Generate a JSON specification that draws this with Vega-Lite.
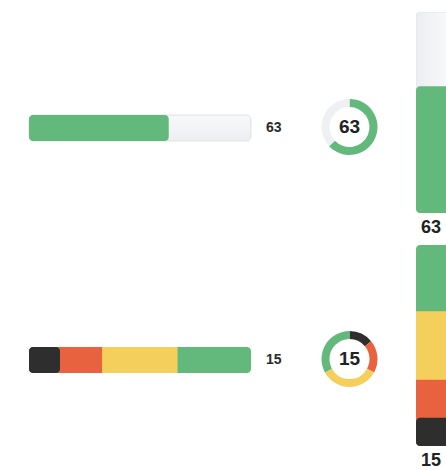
{
  "$schema": "https://vega.github.io/schema/vega-lite/v6.json",
  "padding": {"left": 28, "top": 12, "right": 0, "bottom": 0},
  "background": "white",
  "config": {"view": {"stroke": null}, "font": "Liberation Sans"},
  "datasets": {
    "progress": [
      {"part": "Done", "value": 63, "rank": 1},
      {"part": "Remaining", "value": 37, "rank": 2}
    ],
    "levels": [
      {"part": "L1", "value": 14, "rank": 1},
      {"part": "L2", "value": 19, "rank": 2},
      {"part": "L3", "value": 34, "rank": 3},
      {"part": "L4", "value": 33, "rank": 4}
    ],
    "score": [{"label": "Score", "value": 15}]
  },
  "bounds": "full",
  "spacing": 39.5,
  "hconcat": [
    {
      "bounds": "flush",
      "spacing": 103,
      "vconcat": [
        {
          "width": 222, "height": 232,
          "data": {"name": "progress"},
          "transform": [{"stack": "value", "groupby": [], "sort": [{"field": "rank", "order": "ascending"}], "as": ["start", "end"]}],
          "layer": [
            {
              "transform": [{"filter": "datum.part === 'Remaining'"}],
              "mark": {"type": "bar", "height": 26, "cornerRadius": 4, "stroke": "#e1e5ea", "strokeWidth": 1,
                "color": {"gradient": "linear", "x1": 0, "y1": 0, "x2": 0, "y2": 1, "stops": [{"offset": 0, "color": "#f8f9fa"}, {"offset": 1, "color": "#eceef1"}]}},
              "encoding": {"x": {"field": "end", "type": "quantitative", "scale": {"domain": [0, 100]}, "axis": null}}
            },
            {
              "transform": [{"filter": "datum.part === 'Done'"}],
              "mark": {"type": "bar", "height": 26, "cornerRadius": 4, "color": "#63b97c"},
              "encoding": {"x": {"field": "end", "type": "quantitative", "scale": {"domain": [0, 100]}, "axis": null}}
            },
            {
              "transform": [{"filter": "datum.part === 'Done'"}],
              "mark": {"type": "text", "align": "left", "baseline": "middle", "dx": 15, "fontSize": 14, "fontWeight": "bold", "color": "#2b2b2b"},
              "encoding": {"x": {"datum": 100}, "text": {"field": "value", "type": "quantitative"}}
            }
          ]
        },
        {
          "width": 222, "height": 26,
          "layer": [
            {
              "data": {"name": "levels"},
              "transform": [{"stack": "value", "groupby": [], "sort": [{"field": "rank", "order": "ascending"}], "as": ["start", "end"]}],
              "layer": [
                {
                  "transform": [{"filter": "datum.part === 'L4'"}],
                  "mark": {"type": "bar", "height": 26, "cornerRadius": 4, "color": "#63b97c"},
                  "encoding": {"x": {"field": "end", "type": "quantitative", "scale": {"domain": [0, 100]}, "axis": null}}
                },
                {
                  "transform": [{"filter": "datum.part === 'L3'"}],
                  "mark": {"type": "bar", "height": 26, "cornerRadiusTopLeft": 4, "cornerRadiusBottomLeft": 4, "color": "#f5cf5c"},
                  "encoding": {"x": {"field": "end", "type": "quantitative", "scale": {"domain": [0, 100]}, "axis": null}}
                },
                {
                  "transform": [{"filter": "datum.part === 'L2'"}],
                  "mark": {"type": "bar", "height": 26, "cornerRadiusTopLeft": 4, "cornerRadiusBottomLeft": 4, "color": "#e8623f"},
                  "encoding": {"x": {"field": "end", "type": "quantitative", "scale": {"domain": [0, 100]}, "axis": null}}
                },
                {
                  "transform": [{"filter": "datum.part === 'L1'"}],
                  "mark": {"type": "bar", "height": 26, "cornerRadius": 4, "color": "#2e2e2e"},
                  "encoding": {"x": {"field": "end", "type": "quantitative", "scale": {"domain": [0, 100]}, "axis": null}}
                }
              ]
            },
            {
              "data": {"name": "score"},
              "mark": {"type": "text", "align": "left", "baseline": "middle", "dx": 15, "fontSize": 14, "fontWeight": "bold", "color": "#2b2b2b"},
              "encoding": {"x": {"datum": 100, "type": "quantitative", "scale": {"domain": [0, 100]}}, "text": {"field": "value", "type": "quantitative"}}
            }
          ]
        }
      ]
    },
    {
      "bounds": "full",
      "spacing": 38.5,
      "hconcat": [
        {
          "bounds": "flush",
          "spacing": 89,
          "vconcat": [
            {
              "width": 56, "height": 230,
              "data": {"name": "progress"},
              "layer": [
                {
                  "mark": {"type": "arc", "innerRadius": 20, "outerRadius": 28},
                  "encoding": {
                    "theta": {"field": "value", "type": "quantitative", "stack": true},
                    "order": {"field": "rank", "type": "quantitative"},
                    "color": {"field": "part", "type": "nominal", "legend": null,
                      "scale": {"domain": ["Done", "Remaining", "L1", "L2", "L3", "L4"], "range": ["#63b97c", "#eef0f3", "#2e2e2e", "#e8623f", "#f5cf5c", "#63b97c"]}}
                  }
                },
                {
                  "transform": [{"filter": "datum.part === 'Done'"}],
                  "mark": {"type": "text", "align": "center", "baseline": "middle", "fontSize": 19, "fontWeight": "bold", "color": "#222222"},
                  "encoding": {"text": {"field": "value", "type": "quantitative"}}
                }
              ]
            },
            {
              "width": 56, "height": 56,
              "layer": [
                {
                  "data": {"name": "levels"},
                  "mark": {"type": "arc", "innerRadius": 20, "outerRadius": 28},
                  "encoding": {
                    "theta": {"field": "value", "type": "quantitative", "stack": true},
                    "order": {"field": "rank", "type": "quantitative"},
                    "color": {"field": "part", "type": "nominal", "legend": null,
                      "scale": {"domain": ["Done", "Remaining", "L1", "L2", "L3", "L4"], "range": ["#63b97c", "#eef0f3", "#2e2e2e", "#e8623f", "#f5cf5c", "#63b97c"]}}
                  }
                },
                {
                  "data": {"name": "score"},
                  "mark": {"type": "text", "align": "center", "baseline": "middle", "fontSize": 19, "fontWeight": "bold", "color": "#222222"},
                  "encoding": {"text": {"field": "value", "type": "quantitative"}}
                }
              ]
            }
          ]
        },
        {
          "bounds": "flush",
          "spacing": 32,
          "vconcat": [
            {
              "width": 30, "height": 201,
              "data": {"name": "progress"},
              "transform": [{"stack": "value", "groupby": [], "sort": [{"field": "rank", "order": "ascending"}], "as": ["start", "end"]}],
              "layer": [
                {
                  "transform": [{"filter": "datum.part === 'Remaining'"}],
                  "mark": {"type": "rect", "clip": true, "cornerRadius": 4, "stroke": "#e1e5ea", "strokeWidth": 1,
                    "color": {"gradient": "linear", "x1": 0, "y1": 0, "x2": 1, "y2": 0, "stops": [{"offset": 0, "color": "#eceef1"}, {"offset": 1, "color": "#f8f9fa"}]}},
                  "encoding": {
                    "x": {"datum": 0, "type": "quantitative", "scale": {"domain": [0, 1]}, "axis": null},
                    "x2": {"datum": 1.15},
                    "y": {"field": "end", "type": "quantitative", "scale": {"domain": [0, 100]}, "axis": null},
                    "y2": {"datum": 0}
                  }
                },
                {
                  "transform": [{"filter": "datum.part === 'Done'"}],
                  "mark": {"type": "rect", "clip": true, "cornerRadius": 4, "color": "#63b97c"},
                  "encoding": {
                    "x": {"datum": 0, "type": "quantitative", "scale": {"domain": [0, 1]}, "axis": null},
                    "x2": {"datum": 1.15},
                    "y": {"field": "end", "type": "quantitative", "scale": {"domain": [0, 100]}, "axis": null},
                    "y2": {"datum": 0}
                  }
                },
                {
                  "transform": [{"filter": "datum.part === 'Done'"}],
                  "mark": {"type": "text", "align": "center", "baseline": "middle", "dy": 15, "fontSize": 18, "fontWeight": "bold", "color": "#222222"},
                  "encoding": {
                    "y": {"datum": 0, "type": "quantitative", "scale": {"domain": [0, 100]}},
                    "text": {"field": "value", "type": "quantitative"}
                  }
                }
              ]
            },
            {
              "width": 30, "height": 201,
              "layer": [
                {
                  "data": {"name": "levels"},
                  "transform": [{"stack": "value", "groupby": [], "sort": [{"field": "rank", "order": "ascending"}], "as": ["start", "end"]}],
                  "layer": [
                    {
                      "transform": [{"filter": "datum.part === 'L4'"}],
                      "mark": {"type": "rect", "clip": true, "cornerRadius": 4, "color": "#63b97c"},
                      "encoding": {
                        "x": {"datum": 0, "type": "quantitative", "scale": {"domain": [0, 1]}, "axis": null},
                        "x2": {"datum": 1.15},
                        "y": {"field": "end", "type": "quantitative", "scale": {"domain": [0, 100]}, "axis": null},
                        "y2": {"datum": 0}
                      }
                    },
                    {
                      "transform": [{"filter": "datum.part === 'L3'"}],
                      "mark": {"type": "rect", "clip": true, "cornerRadiusBottomLeft": 4, "cornerRadiusBottomRight": 4, "color": "#f5cf5c"},
                      "encoding": {
                        "x": {"datum": 0, "type": "quantitative", "scale": {"domain": [0, 1]}, "axis": null},
                        "x2": {"datum": 1.15},
                        "y": {"field": "end", "type": "quantitative", "scale": {"domain": [0, 100]}, "axis": null},
                        "y2": {"datum": 0}
                      }
                    },
                    {
                      "transform": [{"filter": "datum.part === 'L2'"}],
                      "mark": {"type": "rect", "clip": true, "cornerRadiusBottomLeft": 4, "cornerRadiusBottomRight": 4, "color": "#e8623f"},
                      "encoding": {
                        "x": {"datum": 0, "type": "quantitative", "scale": {"domain": [0, 1]}, "axis": null},
                        "x2": {"datum": 1.15},
                        "y": {"field": "end", "type": "quantitative", "scale": {"domain": [0, 100]}, "axis": null},
                        "y2": {"datum": 0}
                      }
                    },
                    {
                      "transform": [{"filter": "datum.part === 'L1'"}],
                      "mark": {"type": "rect", "clip": true, "cornerRadius": 4, "color": "#2e2e2e"},
                      "encoding": {
                        "x": {"datum": 0, "type": "quantitative", "scale": {"domain": [0, 1]}, "axis": null},
                        "x2": {"datum": 1.15},
                        "y": {"field": "end", "type": "quantitative", "scale": {"domain": [0, 100]}, "axis": null},
                        "y2": {"datum": 0}
                      }
                    }
                  ]
                },
                {
                  "data": {"name": "score"},
                  "mark": {"type": "text", "align": "center", "baseline": "middle", "dy": 15, "fontSize": 18, "fontWeight": "bold", "color": "#222222"},
                  "encoding": {
                    "y": {"datum": 0, "type": "quantitative", "scale": {"domain": [0, 100]}},
                    "text": {"field": "value", "type": "quantitative"}
                  }
                }
              ]
            }
          ]
        }
      ]
    }
  ]
}
